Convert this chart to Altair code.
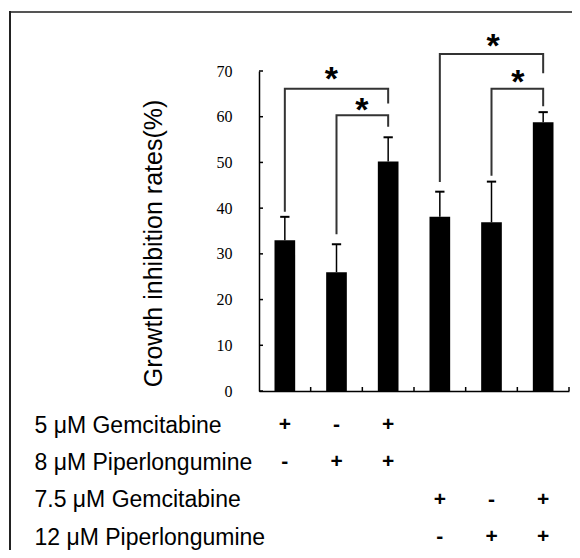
import altair as alt
import pandas as pd

# ---- data ----
bar_idx = [0, 1, 2, 3, 4, 5]
values = [33.0, 26.0, 50.2, 38.1, 36.9, 58.8]
err_top = [38.1, 32.1, 55.5, 43.6, 45.8, 61.0]

y_ticks = [0, 10, 20, 30, 40, 50, 60, 70]
x_ticks = [1, 2, 3, 4, 5, 6]

br_from = [0, 1, 3, 4]
br_to = [2, 2, 5, 5]
br_top = [66.1, 60.3, 73.7, 66.1]
br_from_bottom = [39.2, 34.3, 45.7, 47.1]
br_to_bottom = [62.9, 57.8, 69.5, 62.3]

star_x = [1.40, 1.99, 4.53, 5.01]
star_y = [69.9, 63.3, 77.2, 69.3]

row_labels = ["5 μM Gemcitabine", "8 μM Piperlongumine",
              "7.5 μM Gemcitabine", "12 μM Piperlongumine"]
row_signs = [["+", "-", "+", "", "", ""],
             ["-", "+", "+", "", "", ""],
             ["", "", "", "+", "-", "+"],
             ["", "", "", "-", "+", "+"]]

# ---- tables built from the arrays ----
bars_df = pd.DataFrame({
    "x0": [i + 0.3 for i in bar_idx],
    "x1": [i + 0.7 for i in bar_idx],
    "xc": [i + 0.5 for i in bar_idx],
    "c0": [i + 0.41 for i in bar_idx],
    "c1": [i + 0.59 for i in bar_idx],
    "value": values,
    "err": err_top,
    "zero": [0] * len(bar_idx),
})

br_rows = []
for k in range(len(br_from)):
    a = br_from[k] + 0.5
    b = br_to[k] + 0.5
    br_rows += [
        {"k": k, "o": 0, "bx": a, "by": br_from_bottom[k]},
        {"k": k, "o": 1, "bx": a, "by": br_top[k]},
        {"k": k, "o": 2, "bx": b, "by": br_top[k]},
        {"k": k, "o": 3, "bx": b, "by": br_to_bottom[k]},
    ]
br_df = pd.DataFrame(br_rows)
star_df = pd.DataFrame({"sx": star_x, "sy": star_y})
yt_df = pd.DataFrame({"v": y_ticks})
xt_df = pd.DataFrame({"v": x_ticks})

sign_rows = []
for r, lab in enumerate(row_labels):
    for i in bar_idx:
        if row_signs[r][i]:
            sign_rows.append({"row": lab, "xc": i + 0.5, "sign": row_signs[r][i]})
sign_df = pd.DataFrame(sign_rows)
one = pd.DataFrame({"a": [0]})

# ---- scales / axes ----
xs = alt.Scale(domain=[0, 6], nice=False, zero=False)
ys = alt.Scale(domain=[0, 70], nice=False)

x_axis = alt.Axis(labels=False, ticks=False, tickSize=0, grid=False, title=None,
                  domainColor="black", domainWidth=1.5)
y_axis = alt.Axis(values=y_ticks, ticks=False, tickSize=0, grid=False,
                  domainColor="black", domainWidth=1.5,
                  labelFont="Liberation Serif", labelFontSize=16, labelColor="black",
                  labelPadding=27, labelBaseline="middle",
                  title="Growth inhibition rates(%)", titleFont="Liberation Sans",
                  titleFontSize=25, titleFontWeight="normal", titleColor="black",
                  titleX=-106, titleY=172, titleAngle=270, titleAlign="center",
                  titleBaseline="middle")


def X(f):
    return alt.X(f, scale=xs, axis=x_axis)


def Y(f):
    return alt.Y(f, scale=ys, axis=y_axis)


bars = alt.Chart(bars_df).mark_rect(color="black").encode(
    x=X("x0:Q"), x2="x1", y=Y("value:Q"), y2="zero")

err_line = alt.Chart(bars_df).mark_rule(color="black", strokeWidth=1.5).encode(
    x=X("xc:Q"), y=Y("value:Q"), y2="err")

caps = alt.Chart(bars_df).mark_rule(color="black", strokeWidth=2).encode(
    x=X("c0:Q"), x2="c1", y=Y("err:Q"))

yticks = alt.Chart(yt_df).mark_rule(color="black", strokeWidth=1.5).encode(
    x=alt.value(0), x2=alt.value(4), y=Y("v:Q"))

xticks = alt.Chart(xt_df).mark_rule(color="black", strokeWidth=1.5).encode(
    x=X("v:Q"), y=alt.value(320), y2=alt.value(316))

brackets = alt.Chart(br_df).mark_line(color="#333333", strokeWidth=2,
                                      strokeJoin="miter", strokeCap="butt").encode(
    x=X("bx:Q"), y=Y("by:Q"), detail="k:N", order="o:Q")

stars = alt.Chart(star_df).mark_text(text="*", font="Liberation Sans", fontSize=34,
                                     fontWeight="bold", color="black", dy=19,
                                     baseline="alphabetic").encode(
    x=X("sx:Q"), y=Y("sy:Q"))

frame_top = alt.Chart(one).mark_rule(color="#555555", strokeWidth=2).encode(
    x=alt.value(-250), x2=alt.value(330), y=alt.value(-59))
frame_left = alt.Chart(one).mark_rule(color="#222222", strokeWidth=2).encode(
    x=alt.value(-249), y=alt.value(-60), y2=alt.value(500))

plot = alt.layer(frame_top, frame_left, bars, err_line, caps, yticks, xticks,
                 brackets, stars)

row_axis = alt.Axis(orient="left", domain=False, ticks=False, tickSize=0, grid=False,
                    labelAlign="left", labelPadding=225, labelFont="Liberation Sans",
                    labelFontSize=23, labelColor="black", labelBaseline="middle",
                    labelLimit=0, title=None)

table = alt.Chart(sign_df).mark_text(font="Liberation Sans", fontSize=21,
                                     fontWeight="bold", color="black",
                                     baseline="middle").encode(
    x=X("xc:Q"),
    y=alt.Y("row:N", scale=alt.Scale(domain=row_labels, range=[354, 466], padding=0),
            axis=row_axis),
    text="sign:N")

chart = alt.layer(plot, table).resolve_scale(y="independent").properties(
    width=310, height=320,
    padding={"left": 251, "top": 63, "right": 3, "bottom": 159},
    autosize=alt.AutoSizeParams(type="none"),
    background="white",
).configure_view(strokeWidth=0)

chart.save("out.html", embed_options={"renderer": "svg", "actions": False})
